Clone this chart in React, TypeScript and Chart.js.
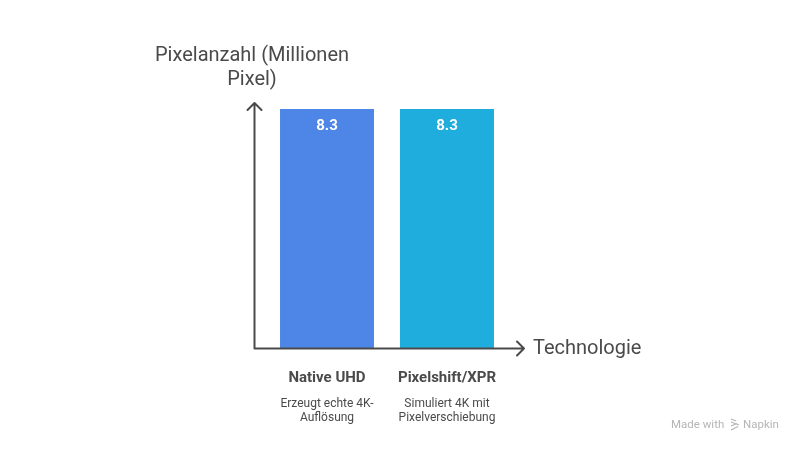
import { useEffect, useRef } from "react";
import { Chart, registerables, type Plugin } from "chart.js";

Chart.register(...registerables);

const categories = ["Native UHD", "Pixelshift/XPR"];
const pixelCounts = [8.3, 8.3];
const barColors = ["#4d86e6", "#1eaddd"];
const descriptions = [
  ["Erzeugt echte 4K-", "Auflösung"],
  ["Simuliert 4K mit", "Pixelverschiebung"],
];
const yTitle = ["Pixelanzahl (Millionen", "Pixel)"];
const xTitle = "Technologie";

const FONT = "Roboto, sans-serif";
const INK = "#4a4a4a";

// axis arrows, value labels and all the text round the plot
const decorations: Plugin<"bar"> = {
  id: "decorations",
  afterDatasetsDraw(chart) {
    const { ctx, scales } = chart;
    const x = scales.x;
    const y = scales.y;
    const axisX = x.left - 12.5;
    const axisY = y.bottom + 0.5;
    const endX = x.right + 17;
    const endY = y.top - 6;

    ctx.save();
    ctx.strokeStyle = INK;
    ctx.lineWidth = 2;
    ctx.lineCap = "round";
    ctx.lineJoin = "round";
    ctx.beginPath();
    ctx.moveTo(axisX, endY);
    ctx.lineTo(axisX, axisY);
    ctx.lineTo(endX, axisY);
    ctx.moveTo(axisX - 7, endY + 7);
    ctx.lineTo(axisX, endY);
    ctx.lineTo(axisX + 7, endY + 7);
    ctx.moveTo(endX - 7, axisY - 7);
    ctx.lineTo(endX, axisY);
    ctx.lineTo(endX - 7, axisY + 7);
    ctx.stroke();

    ctx.textBaseline = "middle";
    ctx.textAlign = "center";
    ctx.fillStyle = INK;
    ctx.font = `20px ${FONT}`;
    yTitle.forEach((line, i) => ctx.fillText(line, 252, 55.5 + i * 24));
    ctx.textAlign = "left";
    ctx.fillText(xTitle, 533, 349);

    ctx.textAlign = "center";
    categories.forEach((name, i) => {
      const cx = x.getPixelForValue(i);
      ctx.fillStyle = "#ffffff";
      ctx.font = `bold 15px ${FONT}`;
      ctx.fillText(String(pixelCounts[i]), cx, y.getPixelForValue(pixelCounts[i]) + 17.5);
      ctx.fillStyle = INK;
      ctx.fillText(name, cx, 378.5);
      ctx.font = `12px ${FONT}`;
      descriptions[i].forEach((line, j) => ctx.fillText(line, cx, 403.5 + j * 14));
    });

    // watermark
    ctx.fillStyle = "#b5b5b5";
    ctx.font = `11.5px ${FONT}`;
    ctx.textAlign = "left";
    ctx.fillText("Made with", 671, 425);
    ctx.fillText("Napkin", 743, 425);
    ctx.strokeStyle = "#b5b5b5";
    ctx.lineWidth = 1.2;
    ctx.lineCap = "butt";
    ctx.beginPath();
    ctx.moveTo(731, 419);
    ctx.lineTo(736, 421);
    ctx.moveTo(731, 422);
    ctx.lineTo(739, 425);
    ctx.moveTo(731, 426);
    ctx.lineTo(737, 423.5);
    ctx.moveTo(731, 430);
    ctx.lineTo(738, 426.5);
    ctx.stroke();
    ctx.restore();
  },
};

export default function App() {
  const canvasRef = useRef<HTMLCanvasElement | null>(null);

  useEffect(() => {
    if (!canvasRef.current) return;
    const chart = new Chart(canvasRef.current, {
      type: "bar",
      data: {
        labels: categories,
        datasets: [
          {
            data: pixelCounts,
            backgroundColor: barColors,
            borderWidth: 0,
            barPercentage: 0.783,
            categoryPercentage: 1,
          },
        ],
      },
      options: {
        animation: false,
        responsive: false,
        layout: { padding: { left: 267, right: 297, top: 109, bottom: 104 } },
        scales: {
          x: { display: false },
          y: { display: false, min: 0, max: 8.3 },
        },
        plugins: { legend: { display: false }, tooltip: { enabled: false } },
      },
      plugins: [decorations],
    });
    return () => chart.destroy();
  }, []);

  return (
    <div style={{ position: "fixed", left: 0, top: 0, width: 804, height: 452, background: "#fff" }}>
      <canvas ref={canvasRef} width={804} height={452} style={{ display: "block" }} />
    </div>
  );
}
